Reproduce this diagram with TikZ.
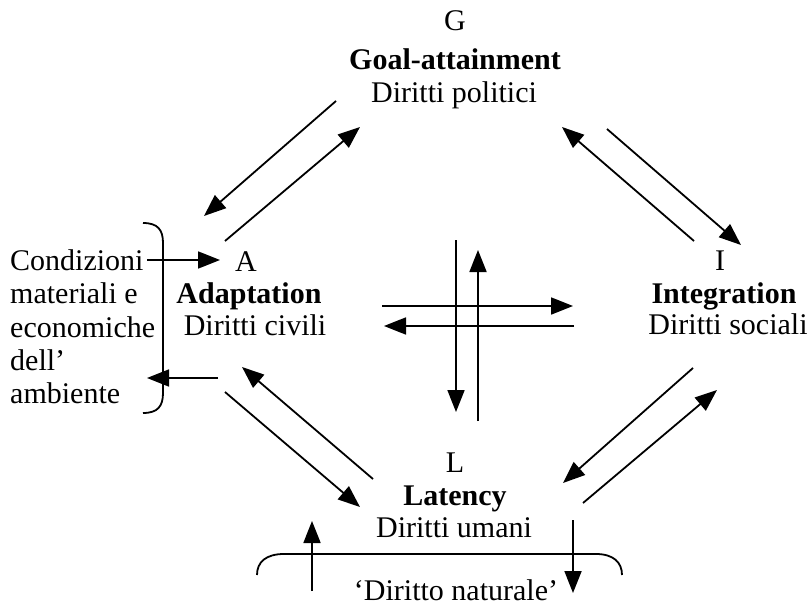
\documentclass[tikz,border=0pt]{standalone}
\usepackage{fontspec}
\setmainfont{Liberation Serif}
\usetikzlibrary{arrows.meta}
\tikzset{
  lbl/.style={anchor=base, inner sep=0pt, font=\fontsize{30}{33}\selectfont},
  lblw/.style={anchor=base west, inner sep=0pt, font=\fontsize{30}{33}\selectfont},
  arr/.style={line width=1.8pt, -{Triangle[length=22pt,width=17pt]}},
  brace/.style={line width=1.8pt},
}
\begin{document}
\begin{tikzpicture}[x=1pt,y=-1pt]
\useasboundingbox (0,0) rectangle (809,607);
% G block
\node[lbl] (G) at (455,31) {G};
\node[lbl] (Gname) at (455,70) {\textbf{Goal-attainment}};
\node[lbl] (Gr) at (454,103) {Diritti politici};
% A block
\node[lbl] (A) at (246,271) {A};
\node[lbl] (Aname) at (249,303) {\textbf{Adaptation}};
\node[lbl] (Ar) at (255,335) {Diritti civili};
% I block
\node[lbl] (I) at (720,270) {I};
\node[lbl] (Iname) at (724,303) {\textbf{Integration}};
\node[lbl] (Ir) at (728,334) {Diritti sociali};
% L block
\node[lbl] (L) at (455,472) {L};
\node[lbl] (Lname) at (455,505) {\textbf{Latency}};
\node[lbl] (Lr) at (454,537) {Diritti umani};
% left environment text
\node[lblw] (c1) at (10,270) {Condizioni};
\node[lblw] (c2) at (10,303) {materiali e};
\node[lblw] (c3) at (10,337) {economiche};
\node[lblw] (c4) at (10,370) {dell’};
\node[lblw] (c5) at (10,403) {ambiente};
% bottom text
\node[lbl] (nat) at (456,600) {‘Diritto naturale’};

% coordinates for connectors
\coordinate (ga1) at (336,101); \coordinate (ga2) at (204,216);
\coordinate (ag1) at (225,241); \coordinate (ag2) at (360,127);
\coordinate (ig1) at (694,241); \coordinate (ig2) at (562,127);
\coordinate (gi1) at (607,129); \coordinate (gi2) at (741,245);
\coordinate (la1) at (373,479); \coordinate (la2) at (242,367);
\coordinate (al1) at (225,392); \coordinate (al2) at (360,507);
\coordinate (il1) at (693,368); \coordinate (il2) at (563,483);
\coordinate (li1) at (583,503); \coordinate (li2) at (717,390);
\coordinate (gl1) at (456,240); \coordinate (gl2) at (456,412);
\coordinate (lg1) at (478,421); \coordinate (lg2) at (478,250);
\coordinate (ai1) at (382,306); \coordinate (ai2) at (573,306);
\coordinate (ia1) at (574,326); \coordinate (ia2) at (384,326);
\coordinate (ea1) at (147,260); \coordinate (ea2) at (220,260);
\coordinate (ae1) at (218,378); \coordinate (ae2) at (147,378);
\coordinate (nl1) at (312,591); \coordinate (nl2) at (312,521);
\coordinate (ln1) at (573,520); \coordinate (ln2) at (573,593);

\draw[arr] (ga1) -- (ga2);
\draw[arr] (ag1) -- (ag2);
\draw[arr] (ig1) -- (ig2);
\draw[arr] (gi1) -- (gi2);
\draw[arr] (la1) -- (la2);
\draw[arr] (al1) -- (al2);
\draw[arr] (il1) -- (il2);
\draw[arr] (li1) -- (li2);
\draw[arr] (gl1) -- (gl2);
\draw[arr] (lg1) -- (lg2);
\draw[arr] (ai1) -- (ai2);
\draw[arr] (ia1) -- (ia2);
\draw[arr] (ea1) -- (ea2);
\draw[arr] (ae1) -- (ae2);
\draw[arr] (nl1) -- (nl2);
\draw[arr] (ln1) -- (ln2);

% braces
\draw[brace] (143,223) .. controls (158,223) and (163,230) .. (163,243) -- (163,393) .. controls (163,406) and (158,413) .. (143,413);
\draw[brace] (257,575) .. controls (257,562) and (266,554) .. (284,554) -- (596,554) .. controls (613,554) and (622,562) .. (622,575);
\end{tikzpicture}
\end{document}
